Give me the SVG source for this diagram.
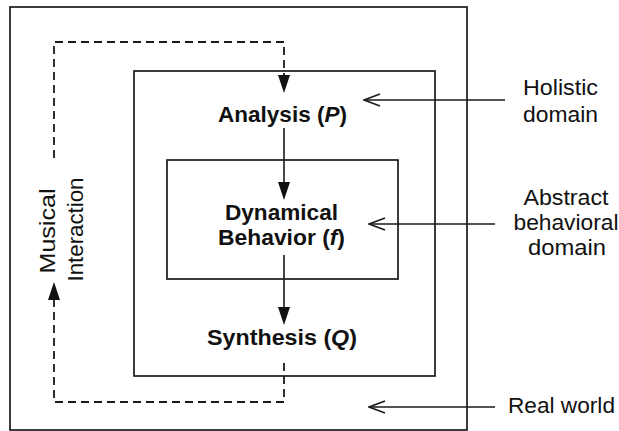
<svg xmlns="http://www.w3.org/2000/svg" width="619" height="431" viewBox="0 0 619 431">
<defs>
<style>
.box{fill:none;stroke:#1a1a1a;stroke-width:1.7}
.ln{fill:none;stroke:#1a1a1a;stroke-width:1.6}
.dash{fill:none;stroke:#1a1a1a;stroke-width:1.8;stroke-dasharray:8 5}
.bold{font-family:"Liberation Sans",Arial,sans-serif;font-weight:bold;font-size:22px;fill:#111;text-anchor:middle}
.reg{font-family:"Liberation Sans",Arial,sans-serif;font-size:22px;fill:#111;text-anchor:middle}
</style>
<marker id="open" markerWidth="18" markerHeight="14" refX="17" refY="7" orient="auto" markerUnits="userSpaceOnUse" viewBox="0 0 18 14">
<path d="M1,1 L17,7 L1,13" fill="none" stroke="#1a1a1a" stroke-width="1.6"/>
</marker>
</defs>
<rect width="619" height="431" fill="#fff"/>
<g id="real-world-box"><rect class="box" x="10" y="7" width="457" height="423"/></g>
<g id="holistic-box"><rect class="box" x="134" y="71" width="301" height="305"/></g>
<g id="abstract-box"><rect class="box" x="167" y="160" width="231" height="119"/></g>
<g id="analysis"><text class="bold" x="282.5" y="122" textLength="129" lengthAdjust="spacingAndGlyphs">Analysis (<tspan font-style="italic">P</tspan>)</text></g>
<g id="dynamical"><text class="bold" x="281.5" y="220" textLength="113" lengthAdjust="spacingAndGlyphs">Dynamical</text><text class="bold" x="281.5" y="245" textLength="127" lengthAdjust="spacingAndGlyphs">Behavior (<tspan font-style="italic">f</tspan>)</text></g>
<g id="synthesis"><text class="bold" x="282" y="345" textLength="150" lengthAdjust="spacingAndGlyphs">Synthesis (<tspan font-style="italic">Q</tspan>)</text></g>
<g id="musical-interaction"><text class="reg" transform="translate(55,231) rotate(-90)" textLength="85" lengthAdjust="spacingAndGlyphs">Musical</text><text class="reg" transform="translate(83,229.5) rotate(-90)" textLength="104" lengthAdjust="spacingAndGlyphs">Interaction</text></g>
<g id="holistic-label"><text class="reg" x="560.5" y="95" textLength="75" lengthAdjust="spacingAndGlyphs">Holistic</text><text class="reg" x="560.5" y="122" textLength="75" lengthAdjust="spacingAndGlyphs">domain</text></g>
<g id="abstract-label"><text class="reg" x="566" y="205" textLength="85" lengthAdjust="spacingAndGlyphs">Abstract</text><text class="reg" x="566" y="230" textLength="105" lengthAdjust="spacingAndGlyphs">behavioral</text><text class="reg" x="567" y="255" textLength="78" lengthAdjust="spacingAndGlyphs">domain</text></g>
<g id="real-world-label"><text class="reg" x="561.5" y="413" textLength="107" lengthAdjust="spacingAndGlyphs">Real world</text></g>
<g id="connectors">
<path class="dash" d="M54,158 L54,42 L284,42 L284,76"/>
<path d="M278,75 L290,75 L284,93 Z" fill="#111"/>
<path class="dash" d="M284,363 L284,402 L54,402 L54,300"/>
<path d="M48,300 L60,300 L54,282 Z" fill="#111"/>
<line class="ln" x1="284" y1="128" x2="284" y2="184"/>
<path d="M278,182 L290,182 L284,200 Z" fill="#111"/>
<line class="ln" x1="284" y1="255" x2="284" y2="309"/>
<path d="M278,307 L290,307 L284,325 Z" fill="#111"/>
<line class="ln" x1="505" y1="100" x2="364" y2="100" marker-end="url(#open)"/>
<line class="ln" x1="495" y1="224" x2="369" y2="224" marker-end="url(#open)"/>
<line class="ln" x1="495" y1="407" x2="369" y2="407" marker-end="url(#open)"/>
</g>
</svg>
